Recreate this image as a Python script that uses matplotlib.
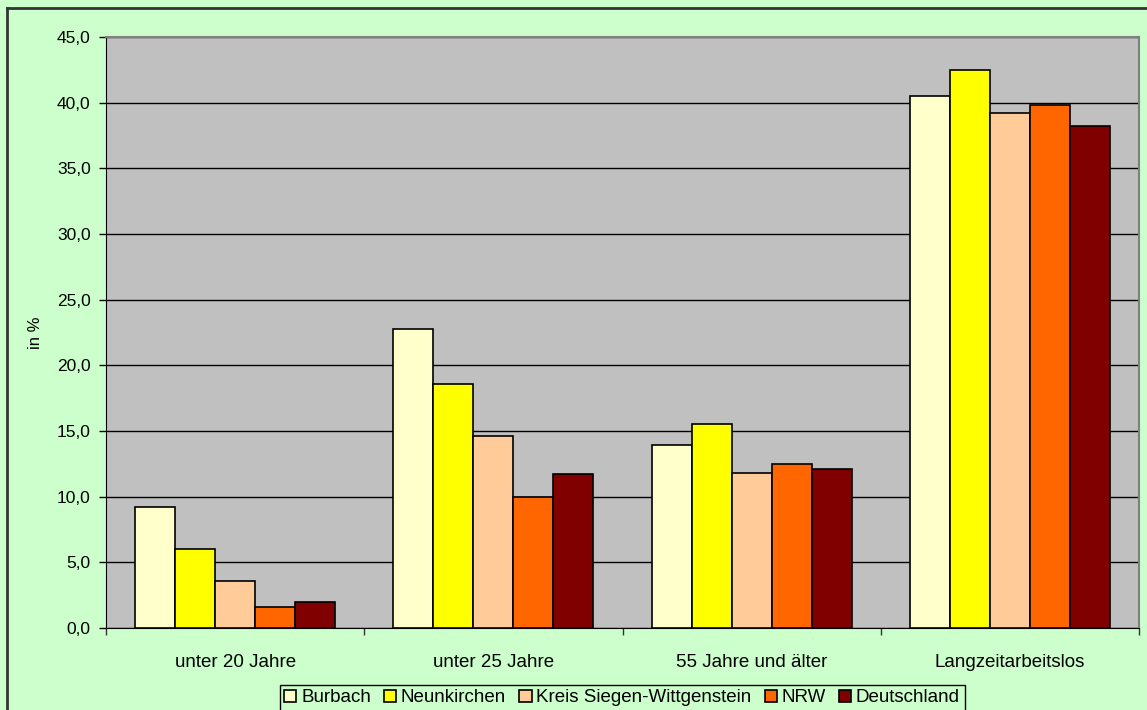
import matplotlib
matplotlib.use("Agg")
import matplotlib.pyplot as plt
import numpy as np
from matplotlib.lines import Line2D

categories = ["unter 20 Jahre", "unter 25 Jahre", "55 Jahre und älter", "Langzeitarbeitslos"]
series_names = ["Burbach", "Neunkirchen", "Kreis Siegen-Wittgenstein", "NRW", "Deutschland"]
burbach = [9.2, 22.8, 13.9, 40.5]
neunkirchen = [6.0, 18.6, 15.5, 42.5]
kreis = [3.6, 14.6, 11.8, 39.2]
nrw = [1.6, 10.0, 12.5, 39.8]
deutschland = [2.0, 11.7, 12.1, 38.2]
yticks = [0, 5, 10, 15, 20, 25, 30, 35, 40, 45]
colors = ["#FFFFCC", "#FFFF00", "#FFCC99", "#FF6600", "#800000"]

plt.rcParams['font.family'] = ['Liberation Sans', 'DejaVu Sans']

W, H = 1147, 710
fig = plt.figure(figsize=(W / 100, H / 100), dpi=100)
fig.patch.set_facecolor("#CCFFCC")

# outer chart border (top and left visible)
fig.add_artist(Line2D([7 / W, 1.0], [1 - 8 / H, 1 - 8 / H], transform=fig.transFigure,
                      color="#333333", linewidth=2))
fig.add_artist(Line2D([7 / W, 7 / W], [0, 1 - 8 / H], transform=fig.transFigure,
                      color="#333333", linewidth=2))

left, right, top, bottom = 106, 1139, 37, 628
ax = fig.add_axes([left / W, 1 - bottom / H, (right - left) / W, (bottom - top) / H])
ax.set_facecolor("#C0C0C0")

data = [burbach, neunkirchen, kreis, nrw, deutschland]
n = len(series_names)
bw = 0.155
x = np.arange(len(categories))
handles = []
for i, (vals, c, name) in enumerate(zip(data, colors, series_names)):
    offs = (i - (n - 1) / 2) * bw
    b = ax.bar(x + offs, vals, width=bw, color=c, edgecolor="black", linewidth=1.2,
               label=name, zorder=3)
    handles.append(b)

ax.set_xlim(-0.5, len(categories) - 0.5)
ax.set_ylim(0, 45)
ax.set_yticks(yticks)
ax.set_yticklabels([f"{v:.1f}".replace(".", ",") for v in yticks], fontsize=12.5)
ax.yaxis.grid(True, color="black", linewidth=1, zorder=1)
ax.set_axisbelow(True)

ax.set_xticks(x)
ax.set_xticklabels(categories, fontsize=13.5)
ax.tick_params(axis="x", length=0, pad=19)
ax.set_xticks(np.arange(len(categories) + 1) - 0.5, minor=True)
ax.tick_params(axis="x", which="minor", length=5, width=1, color="#333333", direction="out")
ax.tick_params(axis="y", length=5, width=1, direction="out", pad=6)

for s in ["top", "right"]:
    ax.spines[s].set_color("#808080")
    ax.spines[s].set_linewidth(1.5)
ax.spines["left"].set_color("black")
ax.spines["bottom"].set_color("black")

ax.set_ylabel("in %", fontsize=12)
ax.yaxis.set_label_coords(-63 / (right - left), 0.5)

leg = fig.legend(handles=handles, labels=series_names, loc="center",
                 bbox_to_anchor=(622 / W, 1 - 698 / H), ncol=5, fontsize=13.5,
                 frameon=True, fancybox=False, edgecolor="black",
                 facecolor="#CCFFCC", framealpha=1,
                 handlelength=0.65, handleheight=0.65, handletextpad=0.25,
                 columnspacing=0.7, borderpad=0.25, borderaxespad=0)
leg.get_frame().set_linewidth(1)

fig.savefig("out.png", dpi=100, facecolor=fig.get_facecolor())
